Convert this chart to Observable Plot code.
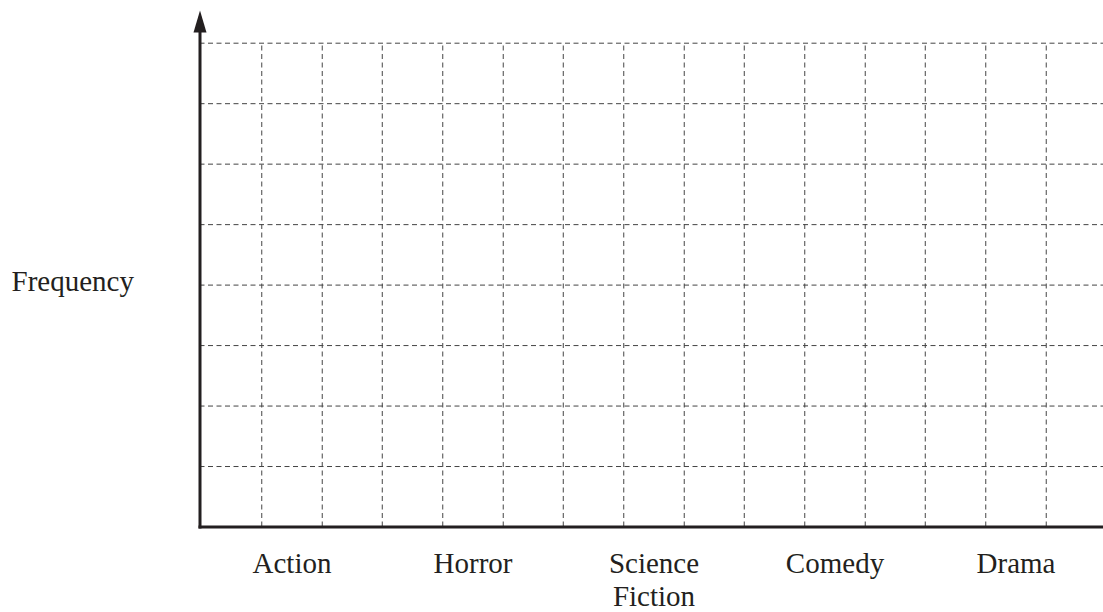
<!DOCTYPE html>
<html>
<head>
<meta charset="utf-8">
<script src="https://cdn.jsdelivr.net/npm/d3@7"></script>
<script src="https://cdn.jsdelivr.net/npm/@observablehq/plot@0.6"></script>
<style>
  html, body { margin: 0; padding: 0; background: #fff; }
  #chart svg { display: block; }
</style>
</head>
<body>
<div id="chart"></div>
<script>
// Categories on the horizontal axis (blank frequency grid, no bars yet)
const categories = ["Action", "Horror", "Science\nFiction", "Comedy", "Drama"];
// Horizontal grid levels (frequency units)
const frequencyTicks = [1, 2, 3, 4, 5, 6, 7, 8];
const subdivisions = [1 / 3, 2 / 3]; // vertical grid lines inside each category band

const W = 1103, H = 612;
const left = 199.5, bottom = 526.5, topGrid = 42.7, arrowBase = 32;
const xRange = [left, 1106.7];
const bw = (xRange[1] - xRange[0]) / categories.length;
const ink = "#231f20";
const gridColor = "#444444";
const font = "Liberation Serif, Times New Roman, serif";
const fs = 29;

const arrowSymbol = {
  draw(context) {
    context.moveTo(0, -22);
    context.lineTo(6.5, 0);
    context.lineTo(-6.5, 0);
    context.closePath();
  }
};

const dash = "5,3.5";

const plot = Plot.plot({
  width: W,
  height: H,
  marginLeft: left,
  marginRight: 0,
  marginTop: arrowBase,
  marginBottom: H - bottom,
  style: { fontFamily: font, fontSize: fs + "px", color: ink, background: "#fff" },
  x: { type: "band", domain: categories, range: xRange, padding: 0 },
  y: { domain: [0, d3.max(frequencyTicks)], range: [bottom, topGrid] },
  marks: [
    Plot.gridY(frequencyTicks, { stroke: gridColor, strokeOpacity: 1, strokeWidth: 1, strokeDasharray: dash }),
    Plot.ruleX(categories.slice(1), { x: d => d, dx: -bw / 2, y1: 0, y2: d3.max(frequencyTicks), stroke: gridColor, strokeWidth: 1, strokeDasharray: dash }),
    ...subdivisions.map(f => Plot.ruleX(categories, { x: d => d, dx: -bw / 2 + f * bw, y1: 0, y2: d3.max(frequencyTicks), stroke: gridColor, strokeWidth: 1, strokeDasharray: dash })),
    Plot.frame({ anchor: "bottom", stroke: ink, strokeWidth: 3 }),
    Plot.frame({ anchor: "left", stroke: ink, strokeWidth: 3 }),
    Plot.dot([0], { x: null, y: null, frameAnchor: "top-left", symbol: arrowSymbol, fill: ink, stroke: "none", r: 5 }),
    Plot.axisX({ tickSize: 0, tickPadding: 22, lineHeight: 1.15, fontSize: fs, fill: ink, label: null }),
    Plot.axisY({ ticks: [], label: null }),
    Plot.text(["Frequency"], { frameAnchor: "left", dx: -188.5, dy: 1.5, textAnchor: "start", fontSize: fs, fill: ink })
  ]
});

document.getElementById("chart").appendChild(plot);
</script>
</body>
</html>
